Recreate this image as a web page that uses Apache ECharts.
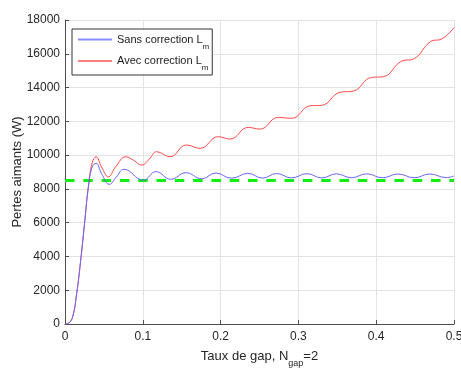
<!DOCTYPE html>
<html><head><meta charset="utf-8">
<script src="https://cdn.jsdelivr.net/npm/echarts@6/dist/echarts.min.js"></script>
<style>html,body{margin:0;padding:0;background:#fff}#c{width:461px;height:368px}</style>
</head><body><div id="c"></div>
<script>
// Data
const redX  = [0,0.005,0.01,0.015,0.02,0.025,0.03,0.035,0.040,0.047,0.0557,0.065,0.0784,0.088,0.0985,0.108,0.118,0.135,0.156,0.1735,0.197,0.212,0.2356,0.2506,0.274,0.2914,0.315,0.330,0.3535,0.3706,0.394,0.409,0.433,0.448,0.471,0.484,0.5];
const redY  = [0,60,450,1800,3700,5900,8100,9550,9900,9300,8720,9300,9900,9700,9410,9750,10200,9900,10600,10400,11090,10950,11640,11540,12230,12180,12920,12950,13720,13790,14600,14640,15570,15690,16750,16870,17550];
const blueX = [0,0.005,0.01,0.015,0.02,0.025,0.03,0.035,0.040,0.047,0.057,0.066,0.0758,0.1006,0.117,0.136,0.1555,0.1757,0.194,0.214,0.235,0.254,0.272,0.291,0.311,0.330,0.349,0.368,0.388,0.408,0.428,0.449,0.469,0.49,0.5];
const blueY = [0,60,450,1800,3700,5900,8100,9300,9510,8900,8270,8700,9160,8520,9020,8570,8960,8600,8940,8630,8920,8640,8910,8650,8900,8650,8890,8660,8890,8660,8880,8660,8880,8670,8760];
const refX = [0,0.5];
const refY = [8500,8500];
const xTicks = [0,0.1,0.2,0.3,0.4,0.5];
const yTicks = [0,2000,4000,6000,8000,10000,12000,14000,16000,18000];

const BLUE = '#6666ff', RED = '#ff4a4a';
const pair = (xs, ys) => xs.map((x, i) => [x, ys[i]]);
const FONT = '"Liberation Sans", Arial, Helvetica, sans-serif';
const chart = echarts.init(document.getElementById('c'), null, {renderer: 'canvas'});
chart.setOption({
  animation: false,
  backgroundColor: '#ffffff',
  textStyle: {fontFamily: FONT},
  grid: {left: 65, right: 7, top: 20, bottom: 44, containLabel: false, outerBoundsMode: 'none'},
  legend: {
    orient: 'vertical', left: 72, top: 29,
    padding: [5, 3, 3, 6], itemWidth: 34, itemHeight: 2, itemGap: 5,
    icon: 'rect',
    borderColor: '#333', borderWidth: 1, backgroundColor: '#fff',
    inactiveBorderWidth: 0,
    itemStyle: {borderWidth: 0, opacity: 0.85},
    data: [{name: 'Sans correction', itemStyle: {color: '#7777ff', borderWidth: 0}},
           {name: 'Avec correction', itemStyle: {color: '#ff6a6a', borderWidth: 0}}],
    formatter: n => '{a|' + n + ' L}{s|m}',
    textStyle: {fontFamily: FONT, color: '#1a1a1a',
      rich: {a: {fontSize: 11, lineHeight: 18, verticalAlign: 'middle', color: '#1a1a1a'},
             s: {fontSize: 8, lineHeight: 22, verticalAlign: 'bottom', color: '#1a1a1a'}}}
  },
  xAxis: {
    type: 'value', min: 0, max: 0.5, interval: 0.1,
    name: '{a|Taux de gap, N}{s|gap}{a|=2}', nameLocation: 'middle', nameGap: 20,
    nameTextStyle: {rich: {a: {fontSize: 13, lineHeight: 16, verticalAlign: 'middle', color: '#262626', fontFamily: FONT},
                           s: {fontSize: 9, lineHeight: 24, verticalAlign: 'bottom', color: '#262626', fontFamily: FONT}}},
    axisLine: {lineStyle: {color: '#4d4d4d', width: 1}},
    axisTick: {inside: true, length: 4, lineStyle: {color: '#4d4d4d'}},
    axisLabel: {fontSize: 12, color: '#262626', margin: 7, fontFamily: FONT,
                formatter: v => xTicks.includes(+v.toFixed(1)) ? String(+v.toFixed(1)) : ''},
    splitLine: {show: true, lineStyle: {color: '#e3e3e3', width: 1}}
  },
  yAxis: {
    type: 'value', min: 0, max: 18000, interval: 2000,
    name: 'Pertes aimants (W)', nameLocation: 'middle', nameGap: 41, nameMoveOverlap: false,
    nameTextStyle: {fontSize: 13, color: '#262626', fontFamily: FONT},
    axisLine: {show: true, lineStyle: {color: '#4d4d4d', width: 1}},
    axisTick: {show: true, inside: true, length: 4, lineStyle: {color: '#4d4d4d'}},
    axisLabel: {fontSize: 12, color: '#262626', margin: 5, fontFamily: FONT,
                formatter: v => yTicks.includes(v) ? String(v) : ''},
    splitLine: {show: true, lineStyle: {color: '#e3e3e3', width: 1}}
  },
  series: [
    {name: 'ref', type: 'line', data: pair(refX, refY), symbol: 'none', z: 1,
     lineStyle: {color: '#11ee11', width: 3, type: [9.5, 8.8]}},
    {name: 'Sans correction', type: 'line', data: pair(blueX, blueY), symbol: 'none', smooth: 0.45, z: 3,
     color: BLUE, itemStyle: {color: BLUE}, lineStyle: {color: BLUE, width: 1}},
    {name: 'Avec correction', type: 'line', data: pair(redX, redY), symbol: 'none', smooth: 0.45, z: 2,
     color: RED, itemStyle: {color: RED}, lineStyle: {color: RED, width: 1}}
  ]
});
</script></body></html>
